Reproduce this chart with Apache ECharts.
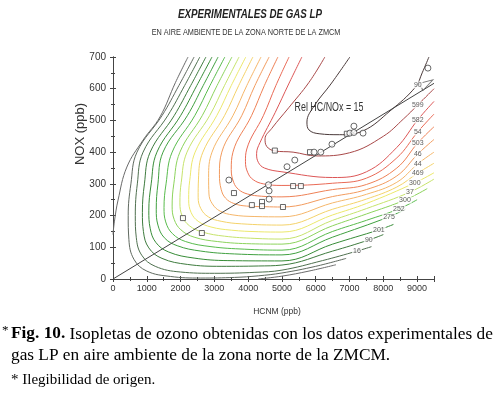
<!DOCTYPE html>
<html>
<head>
<meta charset="utf-8">
<script src="https://cdn.jsdelivr.net/npm/echarts@6/dist/echarts.min.js"></script>
<style>
html,body{margin:0;background:#fff}
#chart{width:496px;height:395px}
</style>
</head>
<body>
<div id="chart"></div>
<script>
// isopletas: [HCNM ppb, NOx ppb], de fuera hacia dentro
const c0a = [[2220,700],[1850,620],[1390,511],[890,438],[410,353],[150,249],[40,180],[0,140]];
const c0b = [[4300,0],[5000,9],[5800,25],[6600,45]];
const c1 = [[2400,700],[1950,610],[1450,515],[710,400],[530,300],[450,200],[470,125],[620,62],[1000,25],[1700,8],[2600,3],[3600,5],[4300,10],[5000,19],[6000,40],[6900,65]];
const c2 = [[2570,700],[2120,610],[1620,515],[890,400],[720,300],[660,200],[690,130],[850,75],[1250,40],[2000,22],[3000,18],[4200,21],[5000,28],[6200,58],[7220,88],[7650,102]];
const c3 = [[2750,700],[2300,610],[1810,515],[1100,400],[930,300],[870,210],[900,150],[1060,98],[1450,65],[2200,46],[3200,40],[4300,41],[5000,44],[6500,88],[7570,123],[8000,140]];
const c4 = [[2930,700],[2480,610],[2000,515],[1300,400],[1130,300],[1060,215],[1100,160],[1270,115],[1650,85],[2400,66],[3400,58],[5000,57],[6500,110],[7870,155],[8300,172]];
const c5 = [[3110,700],[2670,610],[2200,515],[1480,400],[1330,300],[1280,220],[1330,170],[1520,130],[1900,105],[2600,88],[3600,79],[5000,76],[6500,132],[8170,196],[8650,220]];
const c6 = [[3310,700],[2870,610],[2420,515],[1750,400],[1570,300],[1510,225],[1560,180],[1760,143],[2150,118],[2900,102],[3900,94],[5000,91],[6500,150],[7500,185],[8460,221],[9000,250]];
const c7 = [[3520,700],[3080,610],[2640,515],[1980,400],[1800,300],[1750,230],[1810,188],[2010,155],[2400,132],[3100,118],[4100,111],[5000,110],[6500,168],[7500,205],[8640,249],[9300,285]];
const c8 = [[3730,700],[3300,610],[2860,515],[2190,400],[2020,305],[1980,240],[2050,198],[2260,168],[2650,148],[3300,135],[4200,128],[5000,126],[6500,185],[7500,222],[8790,274],[9500,315]];
const c9 = [[3930,700],[3500,610],[3070,515],[2430,400],[2270,310],[2240,250],[2310,210],[2520,182],[2900,164],[3500,154],[4300,149],[5000,148],[6500,202],[7500,238],[8930,303],[9500,335]];
const c10 = [[4140,700],[3720,610],[3300,515],[2660,400],[2530,315],[2520,258],[2600,222],[2820,196],[3200,182],[3800,174],[5000,170],[6500,220],[7500,252],[8400,290],[9020,334],[9500,365]];
const c11 = [[4380,700],[3960,610],[3550,515],[2930,400],[2830,320],[2840,268],[2940,237],[3170,214],[3550,202],[4200,197],[5000,196],[6500,240],[7500,267],[8400,305],[9020,363],[9500,400]];
const c12 = [[4620,700],[4200,610],[3810,515],[3220,400],[3150,330],[3200,283],[3330,255],[3580,238],[3950,230],[4500,228],[5000,227],[6500,260],[7500,282],[8400,325],[9020,394],[9500,440]];
const c13 = [[4880,700],[4480,610],[4100,515],[3550,400],[3500,345],[3570,305],[3720,282],[3980,268],[4400,261],[5000,259],[6500,282],[7500,298],[8400,350],[9020,429],[9500,480]];
const c14 = [[5210,700],[4820,610],[4450,515],[3960,410],[3920,370],[3990,335],[4150,313],[4450,300],[5000,295],[6500,302],[7500,318],[8400,382],[9020,464],[9500,520]];
const c15 = [[5590,700],[5200,615],[4800,525],[4350,430],[4250,395],[4300,368],[4480,350],[5000,338],[6500,320],[7500,338],[8400,415],[9020,502],[9500,560]];
const c16 = [[6270,700],[5800,620],[5200,540],[4700,475],[4500,442],[4550,418],[4780,404],[5330,400],[6030,388],[7000,398],[8000,450],[8600,505],[9020,549],[9500,600]];
const cU = [[7010,700],[6450,615],[5950,545],[5740,495],[5800,470],[6100,458],[6700,455],[7400,467],[8200,530],[8950,605],[9150,650],[9350,700]];

// etiquetas de las isopletas (ilegibles en el original)
const isoLabelText = ['16','90','201','275','252','300','37','300','469','44','46','503','54','582','599','90'];
const isoLabelAt = [[7220,88],[7570,123],[7870,155],[8170,196],[8460,221],[8640,249],[8790,274],[8930,303],[9020,334],[9020,363],[9020,394],[9020,429],[9020,464],[9020,502],[9020,549],[9020,612]];

// datos experimentales
const expSquares = [[2070,192],[2630,145],[3580,271],[4110,233],[4410,243],[4410,230],[5030,227],[5330,293],[5560,293],[4790,405],[5830,400],[6920,458]];
const expCircles = [[3430,312],[4620,278],[4620,252],[4600,297],[5150,354],[5380,375],[5950,400],[6150,400],[6480,425],[7010,460],[7130,462],[7130,482],[7400,460],[9320,665]];

// recta HC/NOx = 15
const relLine = [[0,0],[9500,617]];

const contours = [c0a, c0b, c1, c2, c3, c4, c5, c6, c7, c8, c9, c10, c11, c12, c13, c14, c15, c16, cU];
const colors = ['#6a6a6a','#6a6a6a','#5f695f','#4f704f','#3e7b3e','#378c37','#40a040','#58bb4c','#8cd35c','#c6e36c','#ece86c','#f4d26a','#f5b66a','#f29b5e','#ee8156','#e96a56','#dc5656','#a84848','#4a3a3a'];

const chart = echarts.init(document.getElementById('chart'));

const series = contours.map((c, i) => ({
    type:'line',
    data:c,
    smooth:0.4,
    showSymbol:false,
    silent:true,
    z:2,
    lineStyle:{color:colors[i], width:1}
}));

series.push({
    type:'line',
    data:relLine,
    showSymbol:false,
    silent:true,
    z:3,
    lineStyle:{color:'#444', width:1}
});
series.push({
    type:'scatter',
    data:[relLine[1]],
    symbol:'path://M0,0 L14,4 L0,8 Z',
    symbolSize:[14,8],
    symbolRotate:31,
    symbolOffset:[-7,0],
    z:4,
    itemStyle:{color:'#fff', borderColor:'#555', borderWidth:1}
});
series.push({
    type:'scatter',
    data:isoLabelAt.map((p, i) => [p[0], p[1], isoLabelText[i]]),
    symbolSize:0,
    z:5,
    label:{
        show:true,
        position:'inside',
        formatter:p => p.data[2],
        fontSize:7,
        fontFamily:'Liberation Sans',
        color:'#333',
        backgroundColor:'#fff',
        padding:[0,1]
    }
});
series.push({
    type:'scatter',
    data:expSquares,
    symbol:'rect',
    symbolSize:5,
    z:6,
    itemStyle:{color:'#fff', borderColor:'#444', borderWidth:1}
});
series.push({
    type:'scatter',
    data:expCircles,
    symbol:'circle',
    symbolSize:6,
    z:6,
    itemStyle:{color:'#fff', borderColor:'#444', borderWidth:1}
});

const axisCommon = {
    type:'value',
    splitLine:{show:false},
    axisLine:{show:true, lineStyle:{color:'#444'}},
    axisTick:{show:true, inside:true, length:3, lineStyle:{color:'#444'}},
    minorTick:{show:true, splitNumber:2, length:2, lineStyle:{color:'#444'}}
};

chart.setOption({
    animation:false,
    backgroundColor:'#fff',
    grid:{left:113, right:62, top:57, bottom:116},
    xAxis:[
        Object.assign({}, axisCommon, {
            min:0, max:9500, interval:1000,
            axisLabel:{color:'#333', fontSize:9, fontFamily:'Liberation Sans', margin:5,
                formatter:v => String(v)}
        }),
        Object.assign({}, axisCommon, {
            position:'top', min:0, max:9500, interval:1000,
            axisLabel:{show:false}
        })
    ],
    yAxis:[
        Object.assign({}, axisCommon, {
            min:0, max:700, interval:100,
            axisLabel:{color:'#333', fontSize:10, fontFamily:'Liberation Sans', margin:7}
        }),
        Object.assign({}, axisCommon, {
            position:'right', min:0, max:700, interval:100,
            axisLabel:{show:false}
        })
    ],
    series:series,
    graphic:[
        {type:'text', x:250, y:14, scaleX:0.75, style:{text:'EXPERIMENTALES DE GAS LP', font:'italic bold 13px "Liberation Sans"', fill:'#222', align:'center', verticalAlign:'middle'}},
        {type:'text', x:246, y:33, scaleX:0.86, style:{text:'EN AIRE AMBIENTE DE LA ZONA NORTE DE LA ZMCM', font:'8.5px "Liberation Sans"', fill:'#333', align:'center', verticalAlign:'middle'}},
        {type:'text', x:80, y:134, rotation:Math.PI/2, style:{text:'NOX (ppb)', font:'13px "Liberation Sans"', fill:'#333', align:'center', verticalAlign:'middle'}},
        {type:'text', x:277, y:312, style:{text:'HCNM (ppb)', font:'8.5px "Liberation Sans"', fill:'#333', align:'center', verticalAlign:'middle'}},
        {type:'text', x:329, y:108, scaleX:0.74, z:10, style:{text:'Rel HC/NOx = 15', font:'12px "Liberation Sans"', fill:'#333', align:'center', verticalAlign:'middle'}},
        {type:'text', x:2, y:331, style:{text:'*', font:'13px "Liberation Serif"', fill:'#000', verticalAlign:'middle'}},
        {type:'text', x:11, y:334, style:{
            text:'{b|Fig. 10.} Isopletas de ozono obtenidas con los datos experimentales de',
            fontFamily:'Liberation Serif', fontSize:17.3, fill:'#000', verticalAlign:'middle',
            rich:{b:{fontFamily:'Liberation Serif', fontSize:17.3, fontWeight:'bold', fill:'#000'}}
        }},
        {type:'text', x:11, y:355, style:{text:'gas LP en aire ambiente de la zona norte de la ZMCM.', font:'17.3px "Liberation Serif"', fill:'#000', verticalAlign:'middle'}},
        {type:'text', x:11, y:380, style:{text:'* Ilegibilidad de origen.', font:'15px "Liberation Serif"', fill:'#000', verticalAlign:'middle'}}
    ]
});
</script>
</body>
</html>
